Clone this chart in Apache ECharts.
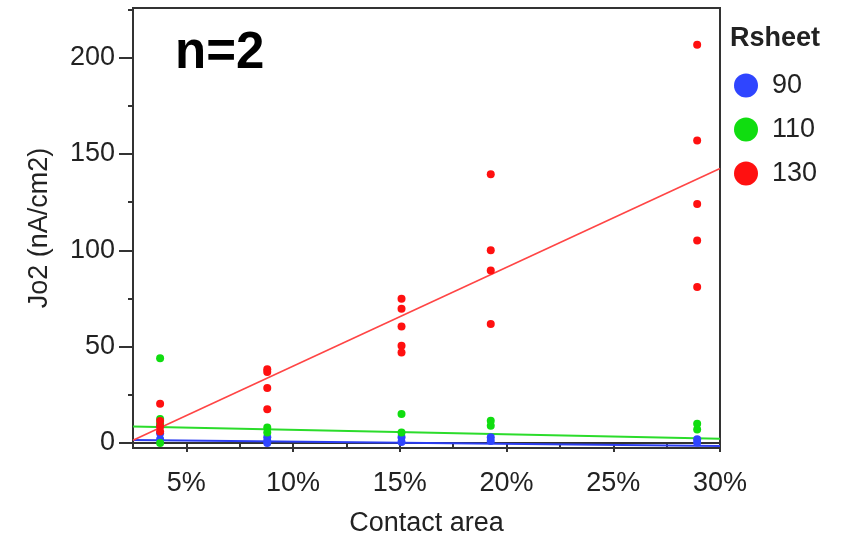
<!DOCTYPE html>
<html>
<head>
<meta charset="utf-8">
<script src="https://cdn.jsdelivr.net/npm/echarts@6/dist/echarts.min.js"></script>
<style>
html,body{margin:0;padding:0;background:#fff;}
#chart{width:842px;height:544px;}
</style>
</head>
<body>
<div id="chart"></div>
<script>
// Contact area (%) and Jo2 (nA/cm2) per Rsheet group
const x90  = [3.77, 3.77, 3.77, 8.79, 8.79, 8.79, 15.08, 15.08, 19.26, 19.26, 28.93, 28.93];
const y90  = [9, 5, 2, 3, 1, 0, 3, 0.5, 3, 1, 2, 0.3];
const x110 = [3.77, 3.77, 3.77, 3.77, 8.79, 8.79, 15.08, 15.08, 19.26, 19.26, 28.93, 28.93];
const y110 = [44, 12.5, 10, 0, 8, 5.5, 15, 5.5, 11.5, 9, 10, 7];
const x130 = [3.77, 3.77, 3.77, 3.77, 8.79, 8.79, 8.79, 8.79, 15.08, 15.08, 15.08, 15.08, 15.08, 19.26, 19.26, 19.26, 19.26, 28.93, 28.93, 28.93, 28.93, 28.93];
const y130 = [20.4, 11.4, 8.5, 6, 38.3, 36.8, 28.5, 17.5, 74.8, 69.6, 60.5, 50.5, 47, 139.4, 100, 89.5, 61.8, 206.6, 157, 124, 105, 81];
// Fitted lines: value at x-axis start and end
const fitX   = [2.5, 30];
const fit90  = [1.6, -1.6];
const fit110 = [8.5, 2.2];
const fit130 = [1.4, 142.4];
const groupNames = ['90', '110', '130'];
const xTicks = [5, 10, 15, 20, 25, 30];
const yTicks = [0, 50, 100, 150, 200];

const colors = ['#2f45ff', '#10dd10', '#ff1010'];
const lineColors = ['#2a3cf0', '#2bdc2b', '#ff4545'];
const pairs = (xs, ys) => xs.map((v, i) => [v, ys[i]]);
const font = 'Liberation Sans, Arial, sans-serif';
const txt = '#222';

const chart = echarts.init(document.getElementById('chart'), null, {renderer: 'canvas'});
const scatterData = [pairs(x90, y90), pairs(x110, y110), pairs(x130, y130)];
const fits = [fit90, fit110, fit130];

const series = [];
groupNames.forEach((n, i) => {
  series.push({
    name: n + ' fit', type: 'line', data: pairs(fitX, fits[i]),
    symbol: 'none', silent: true, z: 2,
    lineStyle: {color: lineColors[i], width: i === 2 ? 1.6 : 2}
  });
});
groupNames.forEach((n, i) => {
  series.push({
    name: n, type: 'scatter', data: scatterData[i], symbol: 'circle', symbolSize: 8, z: 3,
    itemStyle: {color: colors[i], opacity: 1}
  });
});

chart.setOption({
  animation: false,
  backgroundColor: '#fff',
  grid: {left: 133, right: 122, top: 8, bottom: 96, show: true, borderColor: '#333', borderWidth: 2, containLabel: false},
  xAxis: {
    type: 'value', min: 2.5, max: 30, splitNumber: 5,
    name: 'Contact area', nameLocation: 'middle', nameGap: 62,
    nameTextStyle: {fontFamily: font, fontSize: 27, color: txt},
    axisLine: {show: true, lineStyle: {color: '#333', width: 2}},
    axisTick: {show: true, length: 9, lineStyle: {color: '#333', width: 2}, customValues: xTicks},
    minorTick: {show: true, splitNumber: 2, length: 6, lineStyle: {color: '#333', width: 2}},
    axisLabel: {fontFamily: font, fontSize: 27, color: txt, margin: 22,
      customValues: xTicks, formatter: v => v + '%'},
    splitLine: {show: false}
  },
  yAxis: {
    type: 'value', min: -2.6, max: 225.7, splitNumber: 5,
    name: 'Jo2 (nA/cm2)', nameLocation: 'middle', nameGap: 80,
    nameTextStyle: {fontFamily: font, fontSize: 27, color: txt},
    axisLine: {show: true, lineStyle: {color: '#333', width: 2}},
    axisTick: {show: true, length: 14, lineStyle: {color: '#333', width: 2}, customValues: yTicks},
    minorTick: {show: true, splitNumber: 2, length: 5, lineStyle: {color: '#333', width: 2}},
    axisLabel: {fontFamily: font, fontSize: 27, color: txt, margin: 18,
      customValues: yTicks},
    splitLine: {show: false}
  },
  legend: {
    data: groupNames, orient: 'vertical', left: 729, top: 67,
    icon: 'circle', itemWidth: 24, itemHeight: 24, itemGap: 17,
    itemStyle: {opacity: 1},
    textStyle: {fontFamily: font, fontSize: 27, color: txt, padding: [0, 0, 0, 9], lineHeight: 24}
  },
  graphic: [
    {type: 'text', left: 175, top: 28, style: {text: 'n=2', font: 'bold 51px ' + font, fill: '#000'}},
    {type: 'text', left: 730, top: 25, style: {text: 'Rsheet', font: 'bold 27px ' + font, fill: '#222'}}
  ],
  series: series
});
</script>
</body>
</html>
